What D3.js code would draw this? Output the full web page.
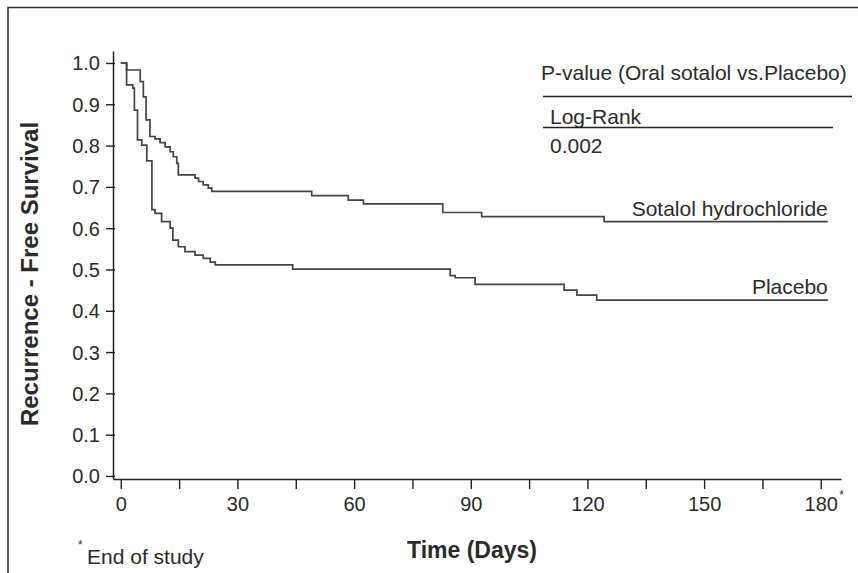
<!DOCTYPE html>
<html>
<head>
<meta charset="utf-8">
<script src="https://cdn.jsdelivr.net/npm/d3@7"></script>
<style>
  html, body { margin: 0; padding: 0; background: #fff; }
  svg text { font-family: 'Liberation Sans', Arial, Helvetica, sans-serif; fill: #2b2b2b; }
</style>
</head>
<body>
<div id="chart"></div>
<script>
// Kaplan-Meier step data (day of event, survival after the event)
const sotalolDays = [0, 1.5, 5.0, 5.8, 6.5, 7.5, 8.8, 10.1, 11.4, 12.7, 13.5, 14.4, 14.8, 19.1, 20.0, 21.2, 22.5, 23.4, 49.1, 58.5, 62.4, 82.8, 92.8, 124.3];
const sotalolSurv = [1.0, 0.983, 0.955, 0.918, 0.862, 0.822, 0.816, 0.807, 0.797, 0.785, 0.773, 0.757, 0.729, 0.721, 0.713, 0.705, 0.697, 0.689, 0.679, 0.668, 0.659, 0.638, 0.628, 0.616];
const placeboDays = [0, 1.5, 3.1, 3.5, 4.3, 5.4, 6.7, 8.0, 8.8, 10.5, 12.7, 13.4, 14.8, 16.5, 19.1, 21.2, 23.0, 24.3, 44.2, 84.7, 86.0, 91.1, 114.0, 117.3, 122.4];
const placeboSurv = [1.0, 0.947, 0.939, 0.886, 0.814, 0.801, 0.763, 0.645, 0.636, 0.616, 0.600, 0.571, 0.555, 0.543, 0.535, 0.527, 0.518, 0.511, 0.501, 0.485, 0.480, 0.464, 0.450, 0.438, 0.426];
const followUpEnd = 181.8;

const seriesNames = ['Sotalol hydrochloride', 'Placebo'];
const xTickValues = d3.range(0, 181, 15);
const yTickValues = d3.range(0, 1.01, 0.1);
const pValueHeader = 'P-value (Oral sotalol vs.Placebo)';
const pValueTest = 'Log-Rank';
const pValue = '0.002';

const width = 858, height = 573;

const svg = d3.select('#chart')
    .append('svg')
    .attr('width', width)
    .attr('height', height);

// frame (top and left edges visible)
svg.append('path')
    .attr('d', 'M8,573 L8,7.5 L858,7.5')
    .attr('fill', 'none')
    .attr('stroke', '#333')
    .attr('stroke-width', 1.6);

const x = d3.scaleLinear().domain([-2, 185.2]).range([113, 841]);
const y = d3.scaleLinear().domain([-0.0073, 1.029]).range([479, 51]);

// y axis, ticks crossing the line
const yAxis = svg.append('g')
    .attr('transform', 'translate(113,0)')
    .call(d3.axisLeft(y).tickValues(yTickValues).tickSize(7).tickSizeOuter(0).tickFormat(d3.format('.1f')));
yAxis.select('.domain').attr('stroke', '#222').attr('stroke-width', 1.5);
yAxis.selectAll('.tick line').attr('x2', 2).attr('x1', -7).attr('stroke', '#222').attr('stroke-width', 1.4);
yAxis.selectAll('.tick text')
    .attr('x', -13)
    .attr('dy', '0.35em')
    .style('font-size', '20px');

// x axis
const xAxis = svg.append('g')
    .attr('transform', 'translate(0,479)')
    .call(d3.axisBottom(x).tickValues(xTickValues).tickSize(10).tickSizeOuter(0)
        .tickFormat(d => d % 30 === 0 ? d : ''));
xAxis.select('.domain').attr('stroke', '#222').attr('stroke-width', 1.5);
xAxis.selectAll('.tick line').attr('stroke', '#222').attr('stroke-width', 1.4);
xAxis.selectAll('.tick text')
    .attr('y', 18)
    .style('font-size', '20px');
// end-of-study mark on 180
xAxis.selectAll('.tick')
    .filter(d => d === 180)
    .append('text')
    .attr('x', 18)
    .attr('y', 20)
    .attr('text-anchor', 'start')
    .style('font-size', '12px')
    .text('*');

// survival curves
const line = d3.line()
    .x(d => x(d[0]))
    .y(d => y(d[1]))
    .curve(d3.curveStepAfter);

function steps(days, surv) {
    const pts = days.map((d, i) => [d, surv[i]]);
    pts.push([followUpEnd, surv[surv.length - 1]]);
    return pts;
}

const curves = [steps(sotalolDays, sotalolSurv), steps(placeboDays, placeboSurv)];

svg.append('g')
    .selectAll('path')
    .data(curves)
    .join('path')
    .attr('d', line)
    .attr('fill', 'none')
    .attr('stroke', '#444')
    .attr('stroke-width', 1.7);

// curve labels, right aligned at curve end
svg.append('g')
    .selectAll('text')
    .data(curves)
    .join('text')
    .attr('x', d => x(followUpEnd))
    .attr('y', d => y(d[d.length - 1][1]) - 6)
    .attr('text-anchor', 'end')
    .style('font-size', '21px')
    .text((d, i) => seriesNames[i]);

// p-value box
const pv = svg.append('g');
pv.append('text').attr('x', 541).attr('y', 80).style('font-size', '21px').text(pValueHeader);
pv.append('line').attr('x1', 543).attr('x2', 852).attr('y1', 96.5).attr('y2', 96.5)
    .attr('stroke', '#222').attr('stroke-width', 1.5);
pv.append('text').attr('x', 550).attr('y', 124).style('font-size', '21px').text(pValueTest);
pv.append('line').attr('x1', 543).attr('x2', 833).attr('y1', 127.5).attr('y2', 127.5)
    .attr('stroke', '#222').attr('stroke-width', 1.5);
pv.append('text').attr('x', 550).attr('y', 153).style('font-size', '21px').text(pValue);

// axis titles
svg.append('text')
    .attr('transform', 'translate(38,274) rotate(-90)')
    .attr('text-anchor', 'middle')
    .style('font-size', '24px')
    .style('font-weight', 'bold')
    .text('Recurrence - Free Survival');

svg.append('text')
    .attr('x', 472)
    .attr('y', 558)
    .attr('text-anchor', 'middle')
    .style('font-size', '23px')
    .style('font-weight', 'bold')
    .text('Time (Days)');

// footnote
svg.append('text').attr('x', 78).attr('y', 549).style('font-size', '12px').text('*');
svg.append('text').attr('x', 87).attr('y', 564).style('font-size', '21px').text('End of study');
</script>
</body>
</html>
